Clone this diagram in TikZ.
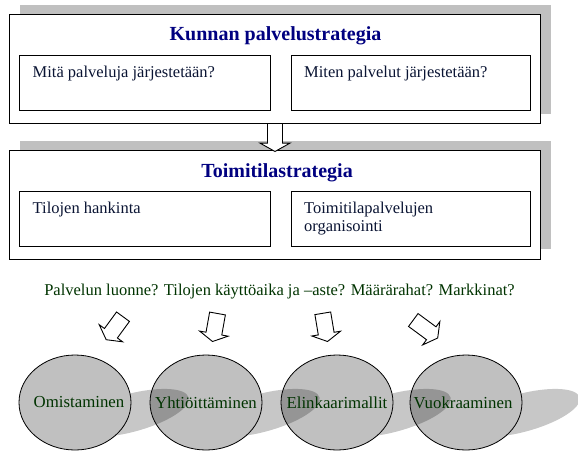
\documentclass[tikz,border=0pt]{standalone}
\usepackage{fontspec}
\setmainfont{Liberation Serif}
\usetikzlibrary{calc,shapes.geometric}
\definecolor{navy}{HTML}{000080}
\definecolor{inktext}{HTML}{0A1433}
\definecolor{dgreen}{HTML}{003300}
\definecolor{shade}{HTML}{C0C0C0}
% block arrow: #1 tail, #2 tip, #3 id, #4 half shaft width, #5 half head width, #6 head length
\newcommand\blockarr[6]{%
  \coordinate (h#3) at ($(#2)!#6!(#1)$);
  \draw[barrow] ($(#1)!#4!90:(#2)$) -- ($(h#3)!#4!-90:(#1)$) -- ($(h#3)!#5!-90:(#1)$)
    -- (#2) -- ($(h#3)!#5!90:(#1)$) -- ($(h#3)!#4!90:(#1)$) -- ($(#1)!#4!-90:(#2)$) -- cycle;}
\begin{document}
\begin{tikzpicture}[x=1pt,y=-1pt,
  frame/.style={draw=black, line width=1pt, fill=white, inner sep=0pt, outer sep=0pt},
  boxshadow/.style={fill=shade},
  title/.style={font=\fontsize{20}{23}\selectfont\bfseries, text=navy, inner sep=0pt},
  itext/.style={font=\fontsize{16.5}{18.4}\selectfont, text=inktext, inner sep=0pt, align=left},
  qtext/.style={font=\fontsize{16.5}{19}\selectfont, text=dgreen, inner sep=0pt},
  ctext/.style={font=\fontsize{16.8}{20}\selectfont, text=dgreen, inner sep=0pt},
  circ/.style={ellipse, draw=black, line width=0.8pt, fill=shade, minimum width=112pt, minimum height=95pt, inner sep=0pt},
  cshadow/.style={fill=black, fill opacity=0.22},
  barrow/.style={draw=black, line width=0.9pt, fill=white, line join=miter}]
\useasboundingbox (0,0) rectangle (578,453);

% --- Kunnan palvelustrategia
\fill[boxshadow] (19.5,4.5) rectangle (550.5,113.5);
\node[frame, minimum width=531.5pt, minimum height=109pt] (b1) at (274.75,69) {};
\node[frame, minimum width=251pt, minimum height=55pt] (b1l) at (145,82.5) {};
\node[frame, minimum width=239.5pt, minimum height=55pt] (b1r) at (410.75,82.5) {};
\node[title, anchor=base] (t1) at (275.5,40.5) {Kunnan palvelustrategia};
\node[itext, anchor=base west] (x1) at (32.5,77.3) {Mitä palveluja järjestetään?};
\node[itext, anchor=base west] (x2) at (304,77.3) {Miten palvelut järjestetään?};

% --- Toimitilastrategia
\fill[boxshadow] (19.5,140.5) rectangle (550.5,249);
\node[frame, minimum width=531.5pt, minimum height=108.5pt] (b2) at (274.75,204.75) {};
\node[frame, minimum width=251pt, minimum height=55.5pt] (b2l) at (145,218.75) {};
\node[frame, minimum width=239.5pt, minimum height=55.5pt] (b2r) at (410.75,218.75) {};
\node[title, anchor=base] (t2) at (277,177) {Toimitilastrategia};
\node[itext, anchor=base west] (x3) at (32.5,213.3) {Tilojen hankinta};
\node[itext, anchor=base west] (x4) at (304,231.7) {Toimitilapalvelujen\\organisointi};

% arrow between the strategies
\coordinate (a0t) at ($(b1.south)+(0.25,0)$);
\coordinate (a0p) at ($(b2.north)+(0.25,1)$);
\blockarr{a0t}{a0p}{0}{7.5pt}{15pt}{8.4pt}

% --- question line
\node[qtext, anchor=base] (q) at (279.5,295) {Palvelun luonne? Tilojen käyttöaika ja –aste? Määrärahat? Markkinat?};

% --- small arrows
\coordinate (s1) at (123,316.7);   \coordinate (e1) at (106.2,339.7);
\coordinate (s2) at (217.5,313.5); \coordinate (e2) at (212.5,341.5);
\coordinate (s3) at (322.8,313.3); \coordinate (e3) at (327.5,341.5);
\coordinate (s4) at (413.3,320);   \coordinate (e4) at (437.7,338);
\blockarr{s1}{e1}{1}{8pt}{14.5pt}{8pt}
\blockarr{s2}{e2}{2}{8pt}{14.5pt}{8pt}
\blockarr{s3}{e3}{3}{8pt}{14.5pt}{8pt}
\blockarr{s4}{e4}{4}{8pt}{14.5pt}{8pt}

% --- circles with shadows (drawn right to left)
\coordinate (c1) at (75,402.5);
\coordinate (c2) at (206,402.5);
\coordinate (c3) at (337,402.5);
\coordinate (c4) at (466,402.5);
\foreach \i in {4,3,2,1}{
  \fill[cshadow, rotate around={15:($(c\i)+(51,24.5)$)}] ($(c\i)+(51,24.5)$) ellipse [x radius=60, y radius=19];
  \node[circ] (o\i) at (c\i) {};
}
\node[ctext] (n1) at ($(o1)+(4,0)$) {Omistaminen};
\node[ctext] (n2) at (o2) {Yhtiöittäminen};
\node[ctext] (n3) at (o3) {Elinkaarimallit};
\node[ctext] (n4) at ($(o4)+(-3,0)$) {Vuokraaminen};
\end{tikzpicture}
\end{document}
